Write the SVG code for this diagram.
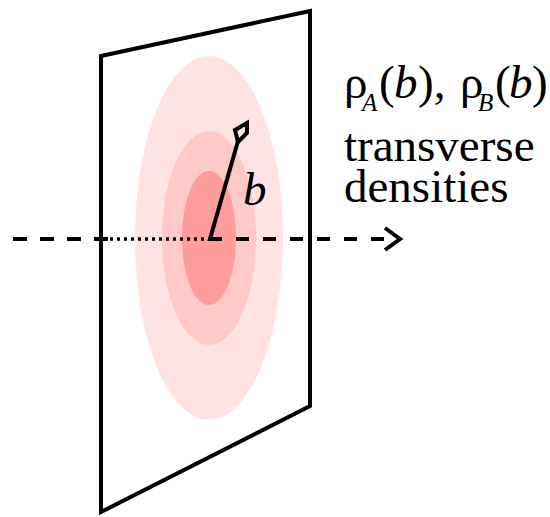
<svg xmlns="http://www.w3.org/2000/svg" width="550" height="517" viewBox="0 0 550 517">
<style>
.ln{fill:none;stroke:#000;stroke-width:4}
.t{font-family:"Liberation Serif","Times New Roman",serif;font-size:47px;fill:#000}
.i{font-style:italic}
.s{font-size:25px;font-style:italic}
</style>
<rect width="550" height="517" fill="#fff"/>
<g id="plane">
<ellipse cx="209" cy="238" rx="74" ry="182" fill="#ffe3e3"/>
<ellipse cx="209" cy="238" rx="47" ry="107" fill="#ffc9c9"/>
<ellipse cx="209" cy="238" rx="27" ry="67" fill="#ff9c9c"/>
<polygon class="ln" points="101,56 310,11 310,406 101,512"/>
</g>
<g id="connectors">
<line class="ln" x1="13" y1="239" x2="108" y2="239" stroke-dasharray="14 13"/>
<line x1="110" y1="239" x2="206" y2="239" stroke="#000" stroke-width="3.5" stroke-dasharray="3 4"/>
<line class="ln" x1="209" y1="239" x2="385" y2="239" stroke-dasharray="13 14"/>
<polyline class="ln" points="385,228 400,239 385,250"/>
<polyline class="ln" points="238,141 210,239 222,239"/>
<polygon class="ln" stroke-width="3" points="235,130 247,123 247,133 238,142"/>
</g>
<g id="labels">
<text class="t i" x="243" y="205" font-size="46">b</text>
<text class="t" y="98"><tspan x="344">ρ</tspan><tspan class="s" x="362" y="111">A</tspan><tspan x="379" y="98">(</tspan><tspan class="i" x="394">b</tspan><tspan x="418">),</tspan><tspan x="460">ρ</tspan><tspan class="s" x="478" y="111">B</tspan><tspan x="495" y="98">(</tspan><tspan class="i" x="509">b</tspan><tspan x="532">)</tspan></text>
<text class="t" x="344" y="161">transverse</text>
<text class="t" x="344" y="202">densities</text>
</g>
</svg>
